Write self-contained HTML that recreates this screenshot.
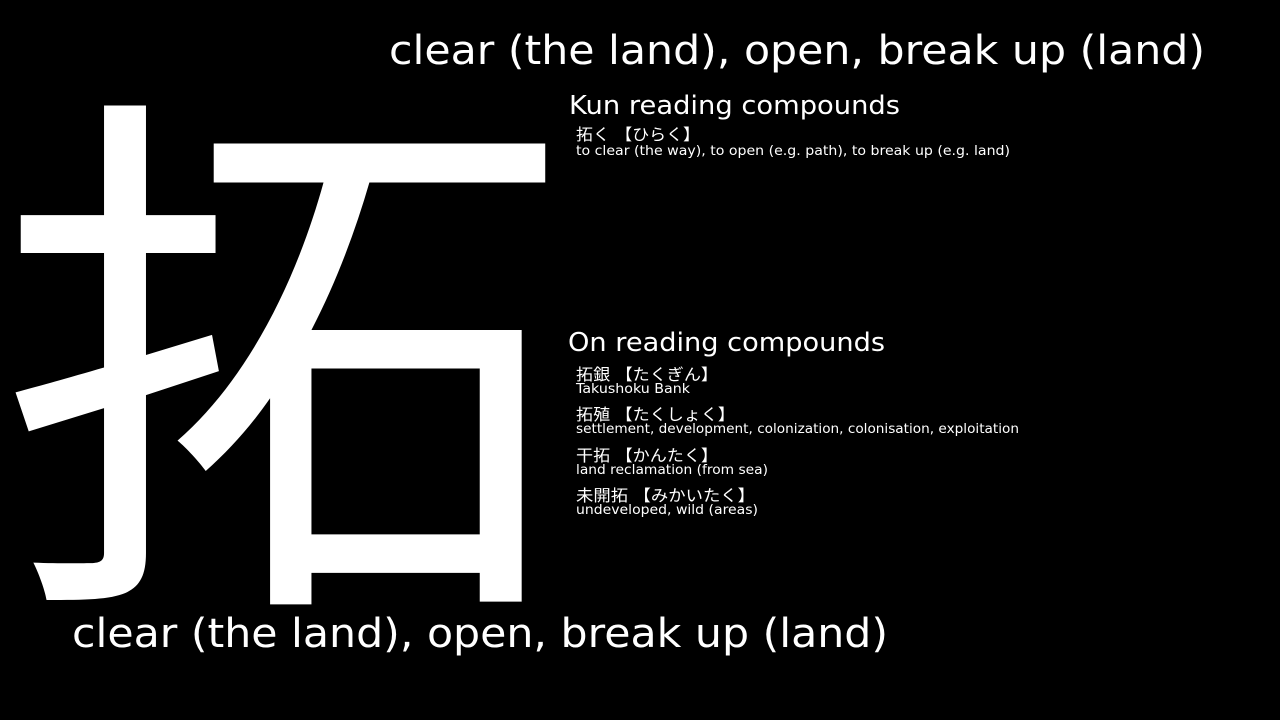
<!DOCTYPE html>
<html>
<head>
<meta charset="utf-8">
<style>
  html,body{margin:0;padding:0;background:#000;}
  body{width:1280px;height:720px;position:relative;overflow:hidden;
       font-family:"DejaVu Sans","Liberation Sans","Noto Sans CJK JP",sans-serif;color:#fff;}
  svg{position:absolute;left:0;top:0;}
  .jp{font-family:"DejaVu Sans","Noto Sans CJK JP",sans-serif;font-size:16px;fill:#fff;}
  .en{font-family:"DejaVu Sans",sans-serif;font-size:13px;fill:#fff;}
</style>
</head>
<body>
<svg width="1280" height="720">
  <g transform="translate(-6,8) scale(1.035,0.977)">
    <text x="2" y="566" font-size="555" fill="#fff" font-family="'Noto Sans CJK JP','Noto Sans CJK SC',sans-serif">拓</text>
  </g>
  <text x="389" y="64" font-size="40" fill="#fff" font-family="'DejaVu Sans',sans-serif" textLength="816" lengthAdjust="spacingAndGlyphs">clear (the land), open, break up (land)</text>
  <text x="72" y="647" font-size="40" fill="#fff" font-family="'DejaVu Sans',sans-serif" textLength="816" lengthAdjust="spacingAndGlyphs">clear (the land), open, break up (land)</text>
  <text x="569" y="114" font-size="26" fill="#fff" font-family="'DejaVu Sans',sans-serif" textLength="331" lengthAdjust="spacingAndGlyphs">Kun reading compounds</text>
  <text x="568" y="351" font-size="26" fill="#fff" font-family="'DejaVu Sans',sans-serif" textLength="317" lengthAdjust="spacingAndGlyphs">On reading compounds</text>

  <text class="jp" x="576" y="140" textLength="124" lengthAdjust="spacingAndGlyphs">拓く 【ひらく】</text>
  <text class="en" x="576" y="155" textLength="434" lengthAdjust="spacingAndGlyphs">to clear (the way), to open (e.g. path), to break up (e.g. land)</text>

  <text class="jp" x="576" y="380" textLength="142" lengthAdjust="spacingAndGlyphs">拓銀 【たくぎん】</text>
  <text class="en" x="576" y="393" textLength="114" lengthAdjust="spacingAndGlyphs">Takushoku Bank</text>

  <text class="jp" x="576" y="420" textLength="159" lengthAdjust="spacingAndGlyphs">拓殖 【たくしょく】</text>
  <text class="en" x="576" y="433" textLength="443" lengthAdjust="spacingAndGlyphs">settlement, development, colonization, colonisation, exploitation</text>

  <text class="jp" x="576" y="461" textLength="142" lengthAdjust="spacingAndGlyphs">干拓 【かんたく】</text>
  <text class="en" x="576" y="474" textLength="192" lengthAdjust="spacingAndGlyphs">land reclamation (from sea)</text>

  <text class="jp" x="576" y="501" textLength="179" lengthAdjust="spacingAndGlyphs">未開拓 【みかいたく】</text>
  <text class="en" x="576" y="514" textLength="182" lengthAdjust="spacingAndGlyphs">undeveloped, wild (areas)</text>
</svg>
</body>
</html>
